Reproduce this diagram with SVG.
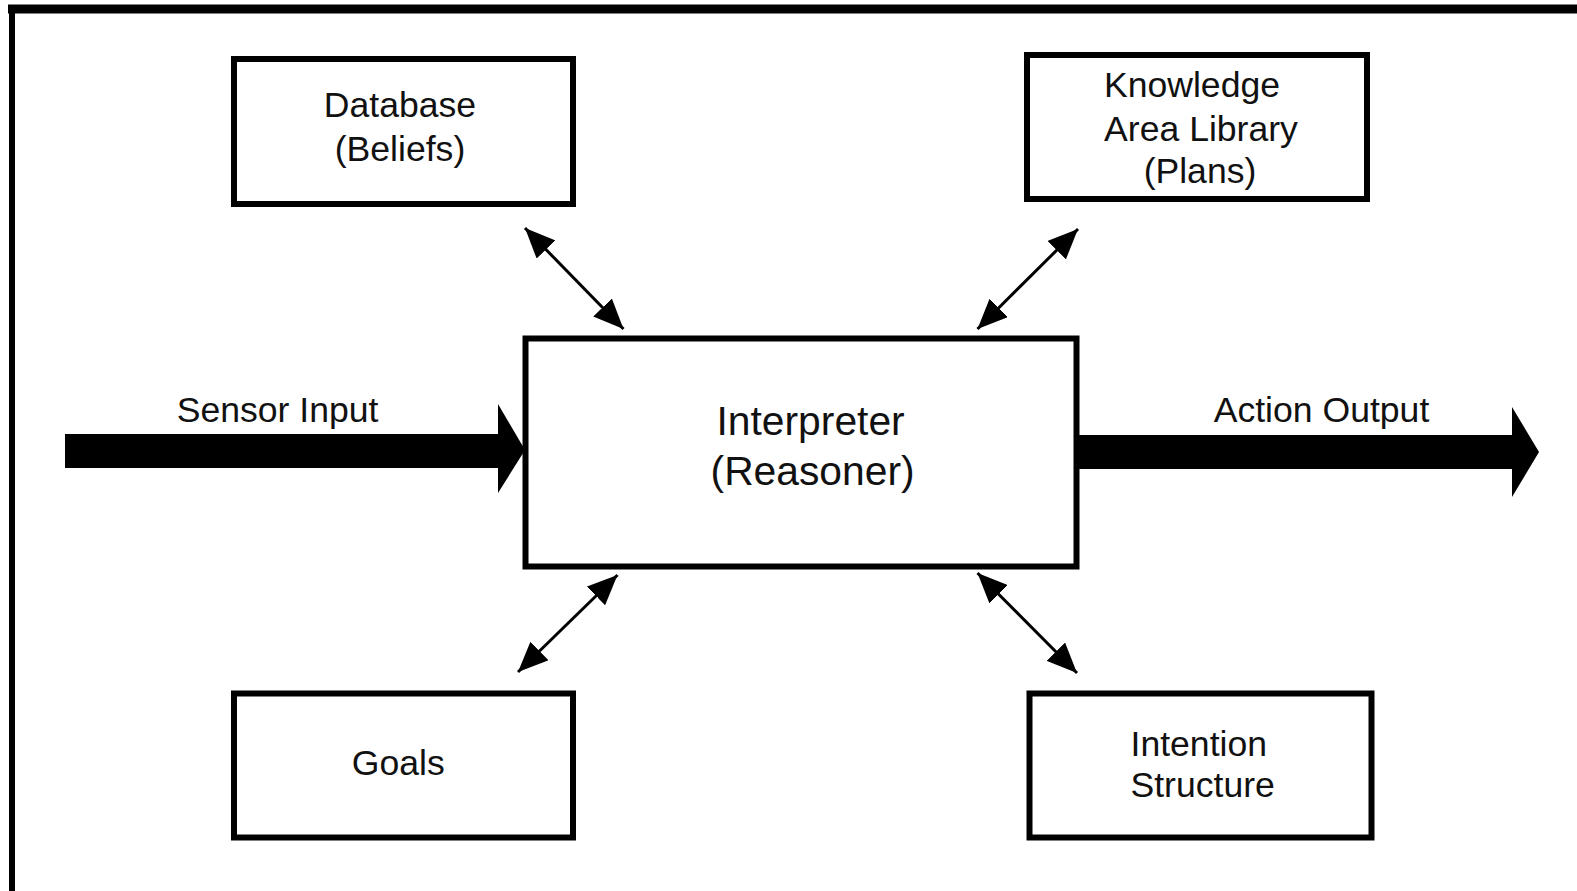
<svg xmlns="http://www.w3.org/2000/svg" width="1577" height="891" viewBox="0 0 1577 891">
<defs>
<style>
.box{fill:#fff;stroke:#000;stroke-width:6}
.lbl{font-family:"Liberation Sans",Arial,sans-serif;font-size:35.6px;fill:#111;text-anchor:middle}
.big{font-size:40.8px}
.dbl{stroke:#000;stroke-width:3;fill:none;marker-start:url(#ah);marker-end:url(#ah)}
</style>
<marker id="ah" viewBox="0 0 30 26" refX="30" refY="13" markerWidth="30" markerHeight="26" markerUnits="userSpaceOnUse" orient="auto-start-reverse">
<path d="M0,0 L30,13 L0,26 z" fill="#000"/>
</marker>
</defs>
<rect width="1577" height="891" fill="#fff"/>
<g id="frame">
<line x1="8" y1="9" x2="1577" y2="9" stroke="#000" stroke-width="9"/>
<line x1="12" y1="5" x2="12" y2="891" stroke="#000" stroke-width="6"/>
</g>
<g id="connectors">
<polygon points="65,434 498,434 498,404 525,450 498,493 498,468 65,468" fill="#000"/>
<polygon points="1078,435 1512,435 1512,407 1539,452 1512,497 1512,469 1078,469" fill="#000"/>
<line class="dbl" x1="525" y1="228" x2="623.5" y2="329"/>
<line class="dbl" x1="1078" y1="229" x2="977.5" y2="329"/>
<line class="dbl" x1="617.5" y1="575" x2="518" y2="672"/>
<line class="dbl" x1="977.5" y1="573" x2="1077" y2="673"/>
<text class="lbl" x="277.6" y="422">Sensor Input</text>
<text class="lbl" x="1321.5" y="422">Action Output</text>
</g>
<g id="database">
<rect class="box" x="234" y="59" width="339" height="145"/>
<text class="lbl" x="400" y="117">Database</text>
<text class="lbl" x="400" y="161">(Beliefs)</text>
</g>
<g id="kal">
<rect class="box" x="1027" y="55" width="340" height="144"/>
<text class="lbl" x="1192" y="97">Knowledge</text>
<text class="lbl" x="1201" y="141">Area Library</text>
<text class="lbl" x="1200" y="183">(Plans)</text>
</g>
<g id="interpreter">
<rect class="box" x="525.5" y="338.5" width="551" height="228"/>
<text class="lbl big" x="810.6" y="435">Interpreter</text>
<text class="lbl big" x="812.6" y="485">(Reasoner)</text>
</g>
<g id="goals">
<rect class="box" x="234" y="693.5" width="339" height="144"/>
<text class="lbl" x="398.3" y="775">Goals</text>
</g>
<g id="intention">
<rect class="box" x="1029.5" y="693.5" width="342" height="144"/>
<text class="lbl" x="1130.5" y="756" style="text-anchor:start">Intention</text>
<text class="lbl" x="1130.5" y="797" style="text-anchor:start">Structure</text>
</g>
</svg>
